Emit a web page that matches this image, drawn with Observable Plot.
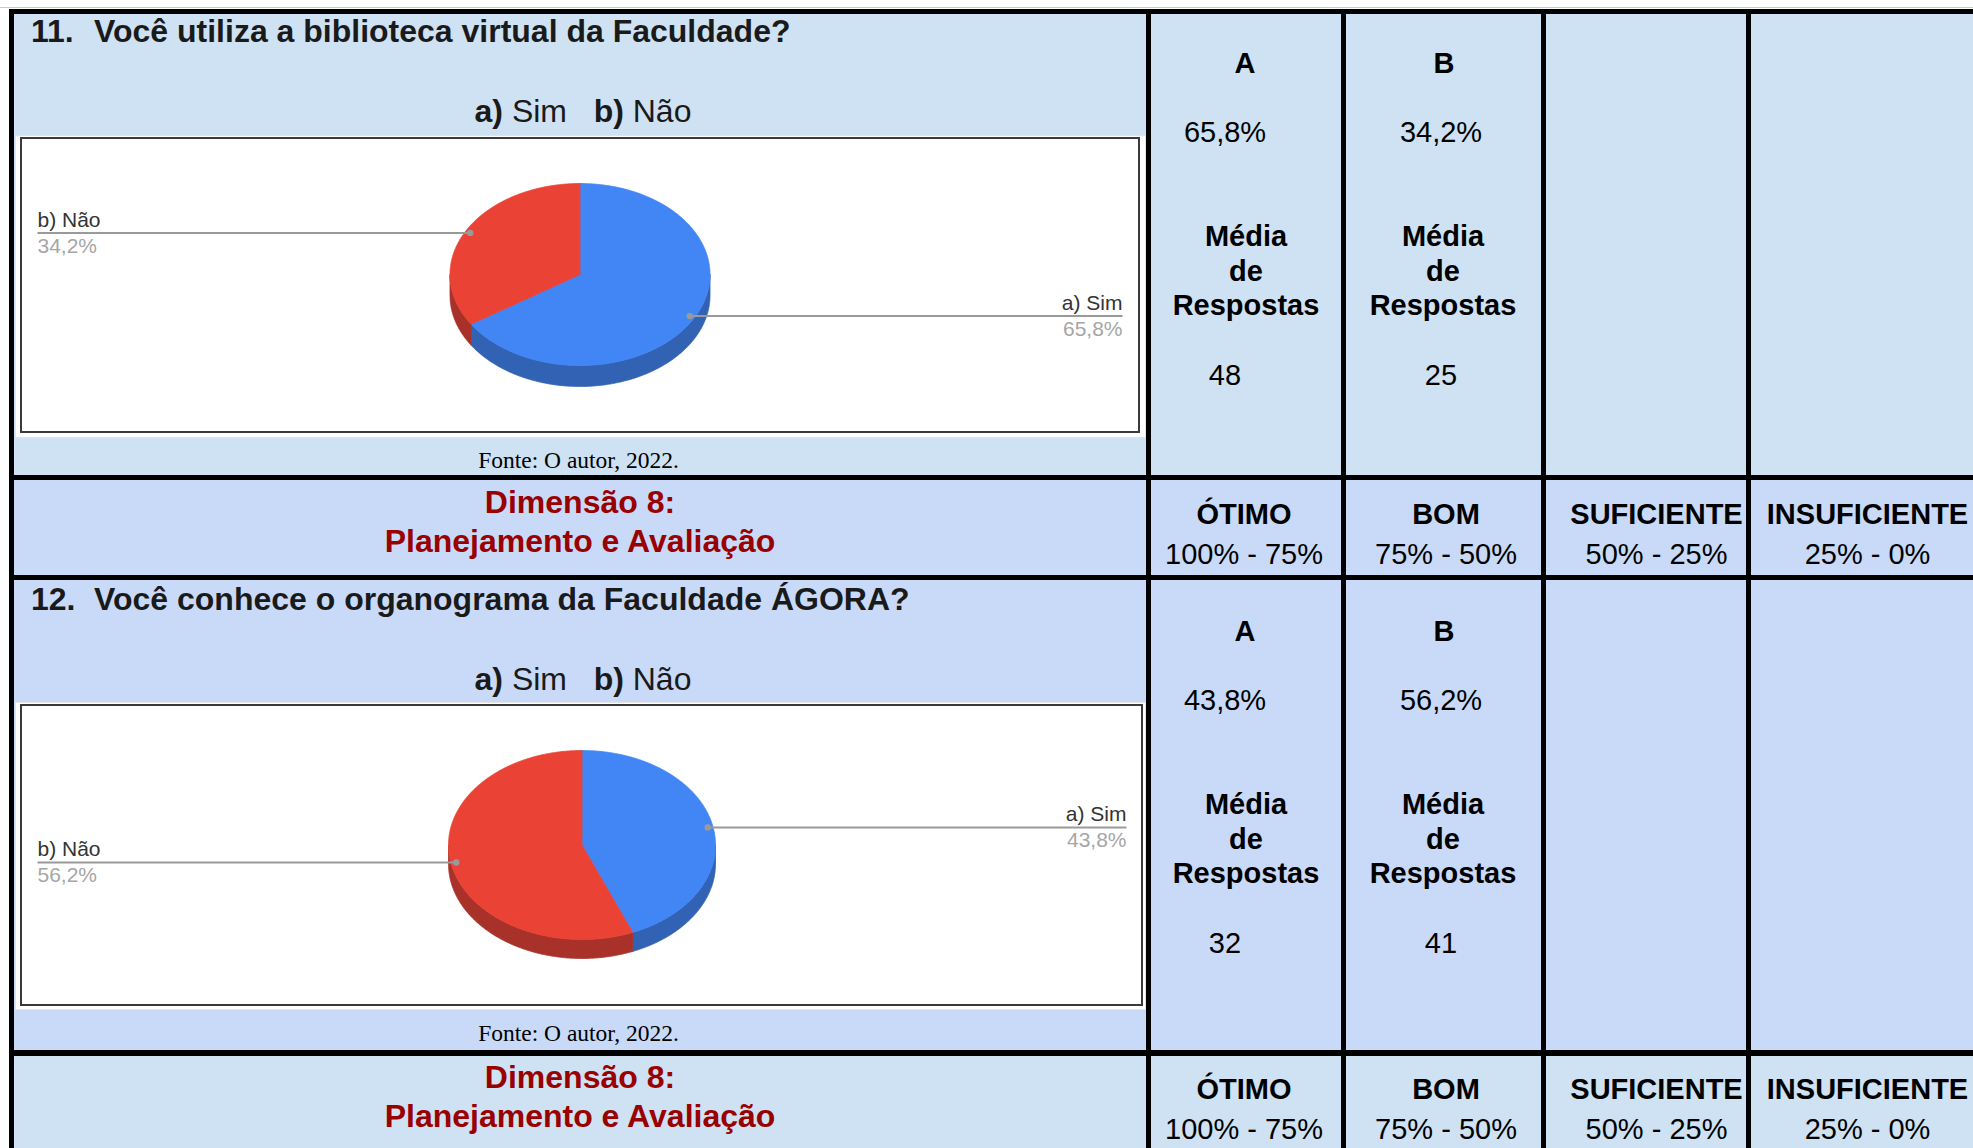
<!DOCTYPE html>
<html><head><meta charset="utf-8">
<script src="https://cdn.jsdelivr.net/npm/d3@7"></script>
<script src="https://cdn.jsdelivr.net/npm/@observablehq/plot@0.6"></script>
<style>
html,body{margin:0;padding:0;background:#fff;}
body{width:1973px;height:1148px;overflow:hidden;position:relative;font-family:"Liberation Sans",Arial,sans-serif;}
.box{position:absolute;box-sizing:border-box;}
.t{position:absolute;white-space:nowrap;line-height:1;color:#000;}
</style></head><body>
<script>
// ---------------- DATA ----------------
const questionNumbers = ["11.", "12."];
const questionTexts = ["Você utiliza a biblioteca virtual da Faculdade?", "Você conhece o organograma da Faculdade ÁGORA?"];
const optionLetters = ["a)", "b)"];
const optionNames = ["Sim", "Não"];
const columnLetters = ["A", "B"];
const q11Percent = [65.8, 34.2];
const q11Count = [48, 25];
const q12Percent = [43.8, 56.2];
const q12Count = [32, 41];
const countHeader = ["Média", "de", "Respostas"];
const dimensionTitle = ["Dimensão 8:", "Planejamento e Avaliação"];
const ratingNames = ["ÓTIMO", "BOM", "SUFICIENTE", "INSUFICIENTE"];
const ratingRanges = ["100% - 75%", "75% - 50%", "50% - 25%", "25% - 0%"];
const sourceNote = "Fonte: O autor, 2022.";
const sliceColors = ["#4285f4", "#ea4335"];
const sliceSideColors = ["#3162b3", "#a8322a"];

// ---------------- HELPERS ----------------
const fmtPct = v => v.toFixed(1).replace(".", ",") + "%";
function rect(x, y, w, h, style) {
  const d = document.createElement("div");
  d.className = "box";
  Object.assign(d.style, {left: x + "px", top: y + "px", width: w + "px", height: h + "px"}, style || {});
  document.body.appendChild(d);
  return d;
}
function txt(html, x, y, o = {}) {
  const d = document.createElement("div");
  d.className = "t";
  d.innerHTML = html;
  const anchor = o.anchor || "middle";
  Object.assign(d.style, {
    left: x + "px", top: y + "px",
    fontSize: (o.size || 29) + "px",
    fontWeight: o.weight || "normal",
    color: o.color || "#000",
    fontFamily: o.family || '"Liberation Sans", Arial, sans-serif',
    lineHeight: o.lh || 1,
    textAlign: "center",
    transform: anchor === "start" ? "translate(0,-50%)" : "translate(-50%,-50%)"
  });
  document.body.appendChild(d);
  return d;
}

// ---------------- TABLE BACKGROUND ----------------
const C1 = "#cfe2f3", C2 = "#c9daf8";
rect(0, 7, 1973, 1, {background: "#c8c8c8"});
rect(11, 11, 1962, 466, {background: C1});
rect(11, 477, 1962, 101, {background: C2});
rect(11, 578, 1962, 475, {background: C2});
rect(11, 1053, 1962, 95, {background: C1});

// chart image areas
function chartFrame(x0, y0, x1, y1, bx0, by0, bx1, by1) {
  rect(x0, y0, x1 - x0, y1 - y0, {background: "#fff", border: "1px solid #e4e4e4"});
  rect(bx0, by0, bx1 - bx0, by1 - by0, {background: "#fff", border: "2px solid #3a3a3a"});
}
chartFrame(15, 135, 1146, 438, 20, 137, 1140, 433);
chartFrame(15, 702, 1146, 1010, 20, 704, 1143, 1006);

// ---------------- PIES (Observable Plot) ----------------
function pieChart({left, top, W, H, cx, cy, rx, ry, depth, labelLeftX, labelRightX, percents}) {
  const total = d3.sum(percents);
  let acc = 0;
  const slices = percents.map((p, i) => {
    const a0 = acc / total * 2 * Math.PI; acc += p;
    const a1 = acc / total * 2 * Math.PI;
    return {i, p, a0, a1, name: optionLetters[i] + " " + optionNames[i]};
  });
  const pt = (t, r = 1, dz = 0) => ({x: cx + rx * r * Math.sin(t), y: cy - ry * r * Math.cos(t) + dz});
  const arc = (a0, a1, r, dz) => {
    const n = Math.max(2, Math.ceil((a1 - a0) / 0.008));
    return d3.range(n + 1).map(k => pt(a0 + (a1 - a0) * k / n, r, dz));
  };
  const sides = [], tops = [];
  for (const s of slices) {
    const b0 = Math.max(s.a0, Math.PI / 2), b1 = Math.min(s.a1, 3 * Math.PI / 2);
    if (b1 > b0) {
      const poly = [...arc(b0, b1, 1, 0), ...arc(b0, b1, 1, depth).reverse()];
      poly.push(poly[0]);
      sides.push({poly, color: sliceSideColors[s.i]});
    }
    const poly = [{x: cx, y: cy}, ...arc(s.a0, s.a1, 1, 0)];
    poly.push(poly[0]);
    tops.push({poly, color: sliceColors[s.i]});
  }
  const labels = slices.map(s => {
    const m = (s.a0 + s.a1) / 2;
    const d = pt(m, 0.96);
    const right = Math.sin(m) > 0;
    return {x: d.x, y: d.y, x2: right ? labelRightX : labelLeftX, right, name: s.name, pct: fmtPct(s.p)};
  });
  const marks = [
    ...sides.map(s => Plot.line(s.poly, {x: "x", y: "y", fill: s.color, stroke: s.color, strokeWidth: 0.8})),
    ...tops.map(s => Plot.line(s.poly, {x: "x", y: "y", fill: s.color, stroke: s.color, strokeWidth: 0.8})),
    Plot.link(labels, {x1: "x", y1: "y", x2: "x2", y2: "y", stroke: "#9a9a9a", strokeWidth: 2}),
    Plot.dot(labels, {x: "x", y: "y", r: 3.2, fill: "#9a9a9a", stroke: "none"}),
    Plot.text(labels, {filter: d => d.right, x: "x2", y: "y", text: "name", textAnchor: "end", dy: -13, fontSize: 21, fill: "#333"}),
    Plot.text(labels, {filter: d => d.right, x: "x2", y: "y", text: "pct", textAnchor: "end", dy: 13, fontSize: 21, fill: "#a6a6a6"}),
    Plot.text(labels, {filter: d => !d.right, x: "x2", y: "y", text: "name", textAnchor: "start", dy: -13, fontSize: 21, fill: "#333"}),
    Plot.text(labels, {filter: d => !d.right, x: "x2", y: "y", text: "pct", textAnchor: "start", dy: 13, fontSize: 21, fill: "#a6a6a6"})
  ];
  const svg = Plot.plot({
    width: W, height: H, margin: 0,
    x: {domain: [0, W], range: [0, W], axis: null},
    y: {domain: [0, H], range: [0, H], axis: null},
    style: {background: "transparent", fontFamily: '"Liberation Sans", Arial, sans-serif', overflow: "visible"},
    marks
  });
  const holder = document.createElement("div");
  Object.assign(holder.style, {position: "absolute", left: left + "px", top: top + "px", width: W + "px", height: H + "px"});
  holder.appendChild(svg);
  document.body.appendChild(holder);
}

pieChart({left: 21, top: 138, W: 1118, H: 294, cx: 558.5, cy: 136, rx: 130, ry: 91, depth: 21,
  labelLeftX: 16, labelRightX: 1101, percents: q11Percent});
pieChart({left: 21, top: 705, W: 1121, H: 299, cx: 560.5, cy: 139.5, rx: 133.5, ry: 94.5, depth: 19,
  labelLeftX: 16, labelRightX: 1105, percents: q12Percent});

// ---------------- TEXTS ----------------
const optionsHtml = optionLetters.map((l, i) => `<b>${l}</b> ${optionNames[i]}`).join("&nbsp;&nbsp;&nbsp;");
function questionRow(idx, y0, fonteY, percents, counts) {
  txt(questionNumbers[idx], 31, y0 + 31, {size: 32, weight: "bold", anchor: "start", color: "#1a1a1a"});
  txt(questionTexts[idx], 94, y0 + 31, {size: 32, weight: "bold", anchor: "start", color: "#1a1a1a"});
  txt(optionsHtml, 583, y0 + 111, {size: 32, color: "#1a1a1a"});
  txt(sourceNote, 578.5, fonteY, {size: 23.5, family: '"Liberation Serif", "Times New Roman", serif'});
  const colCenter = [1245, 1444];
  const pctCenter = [1225, 1441];
  const hdrCenter = [1246, 1443];
  for (let i = 0; i < 2; i++) {
    txt(columnLetters[i], colCenter[i], y0 + 63, {weight: "bold"});
    txt(fmtPct(percents[i]), pctCenter[i], y0 + 132);
    txt(countHeader.join("<br>"), hdrCenter[i], y0 + 271, {weight: "bold", lh: "34.5px"});
    txt(String(counts[i]), pctCenter[i], y0 + 375);
  }
}
questionRow(0, 0, 461, q11Percent, q11Count);
questionRow(1, 568, 1034, q12Percent, q12Count);

function dimensionRow(y0) {
  txt(dimensionTitle[0], 580, y0 + 25, {size: 32, weight: "bold", color: "#990000"});
  txt(dimensionTitle[1], 580, y0 + 64, {size: 32, weight: "bold", color: "#990000"});
  const cx = [1244, 1446, 1656.5, 1867.5];
  ratingNames.forEach((r, i) => {
    txt(r, cx[i], y0 + 37, {weight: "bold"});
    txt(ratingRanges[i], cx[i], y0 + 77);
  });
}
dimensionRow(477);
dimensionRow(1052);

// ---------------- GRID LINES ----------------
const K = {background: "#000"};
rect(9, 9, 1964, 5, K);
rect(9, 475, 1964, 5, K);
rect(9, 575, 1964, 5, K);
rect(9, 1050, 1964, 6, K);
rect(9, 9, 5, 1139, K);
[1146, 1341, 1541, 1746].forEach(x => rect(x, 9, 4.5, 1139, K));
</script>
</body></html>
